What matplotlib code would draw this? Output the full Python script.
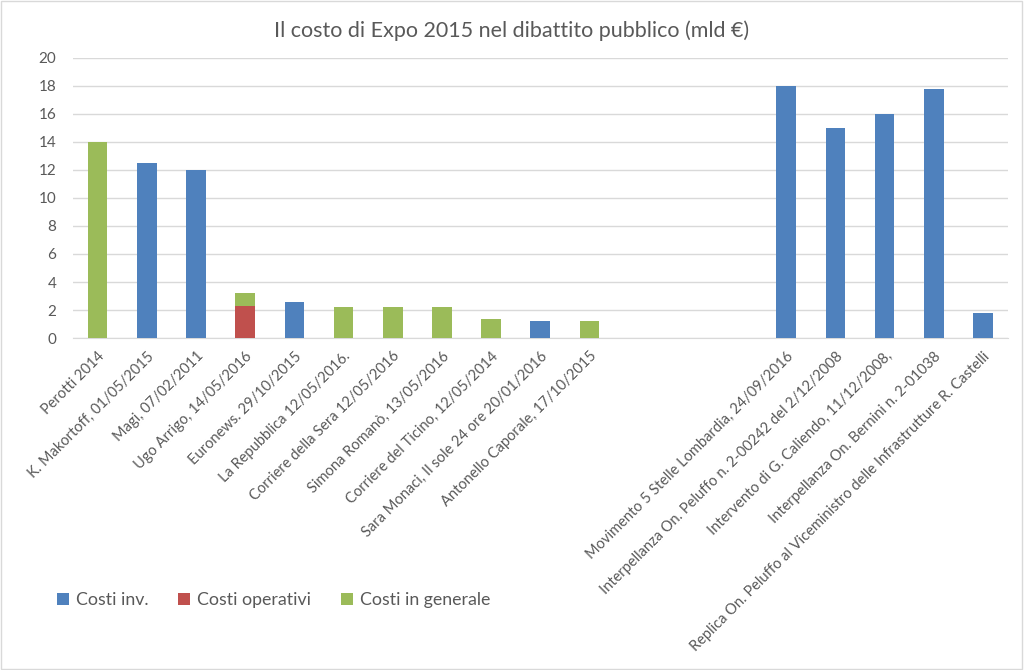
import matplotlib
matplotlib.use("Agg")
from matplotlib import pyplot as plt
from matplotlib.patches import Rectangle
import numpy as np

plt.rcParams['font.family'] = ['Lato', 'DejaVu Sans']

labels = ["Perotti 2014", "K. Makortoff, 01/05/2015", "Magi, 07/02/2011",
          "Ugo Arrigo, 14/05/2016", "Euronews. 29/10/2015",
          "La Repubblica 12/05/2016.", "Corriere della Sera 12/05/2016",
          "Simona Romanò, 13/05/2016", "Corriere del Ticino, 12/05/2014",
          "Sara Monaci, Il sole 24 ore 20/01/2016",
          "Antonello Caporale, 17/10/2015", "", "", "",
          "Movimento 5 Stelle Lombardia, 24/09/2016",
          "Interpellanza On. Peluffo n. 2-00242 del 2/12/2008",
          "Intervento di G. Caliendo, 11/12/2008,",
          "Interpellanza On. Bernini n. 2-01038",
          "Replica On. Peluffo al Viceministro delle Infrastrutture R. Castelli"]

costi_inv = [0, 12.5, 12, 0, 2.6, 0, 0, 0, 0, 1.25, 0, 0, 0, 0, 18, 15, 16, 17.8, 1.8]
costi_operativi = [0, 0, 0, 2.3, 0, 0, 0, 0, 0, 0, 0, 0, 0, 0, 0, 0, 0, 0, 0]
costi_generale = [14, 0, 0, 0.9, 0, 2.2, 2.2, 2.2, 1.35, 0, 1.2, 0, 0, 0, 0, 0, 0, 0, 0]

blue = "#4F81BD"
red = "#C0504D"
green = "#9BBB59"
grey = "#595959"

x = np.arange(len(labels))
inv = np.array(costi_inv)
op = np.array(costi_operativi)
gen = np.array(costi_generale)

fig = plt.figure(figsize=(10.24, 6.7), dpi=100)
ax = fig.add_axes([0.0713, 0.4955, 0.9127, 0.418])

w = 0.4
ax.bar(x, inv, w, color=blue, label="Costi inv.", zorder=3)
ax.bar(x, op, w, bottom=inv, color=red, label="Costi operativi", zorder=3)
ax.bar(x, gen, w, bottom=inv + op, color=green, label="Costi in generale", zorder=3)

ax.set_xlim(-0.5, len(labels) - 0.5)
ax.set_ylim(0, 20)
ax.set_yticks(range(0, 21, 2))
ax.yaxis.grid(True, color="#D9D9D9", linewidth=1, zorder=0)
for s in ["top", "right", "left"]:
    ax.spines[s].set_visible(False)
ax.spines["bottom"].set_color("#D9D9D9")
ax.tick_params(axis="both", length=0, colors=grey, labelsize=10.5)
ax.tick_params(axis="y", pad=12, labelsize=11)
ax.tick_params(axis="x", pad=8)

ax.set_xticks(x)
ax.set_xticklabels(labels, rotation=45, ha="right", rotation_mode="anchor")

fig.suptitle("Il costo di Expo 2015 nel dibattito pubblico (mld €)",
             x=0.5, y=0.97, fontsize=15.5, color=grey)

fig.legend(loc="lower left", bbox_to_anchor=(0.04, 0.068), ncol=3, frameon=False,
           fontsize=12.8, handlelength=0.65, handleheight=0.65, handletextpad=0.4,
           columnspacing=1.7, labelcolor=grey)

fig.patches.append(Rectangle((0.001, 0.001), 0.997, 0.997, transform=fig.transFigure,
                             fill=False, edgecolor="#D9D9D9", linewidth=1))

fig.savefig("out.png", dpi=100)
